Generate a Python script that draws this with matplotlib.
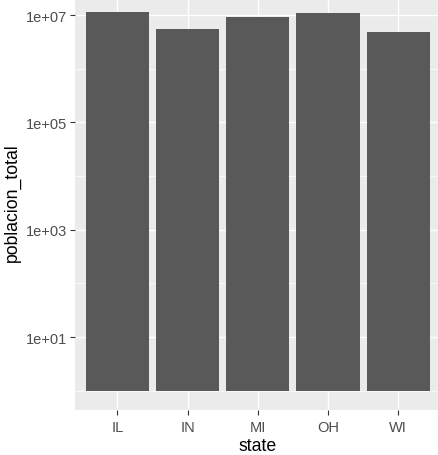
import matplotlib
matplotlib.use("Agg")
import matplotlib.pyplot as plt
import matplotlib.ticker as tkr
import numpy as np

states = ["IL", "IN", "MI", "OH", "WI"]
poblacion_total = [11430602, 5544159, 9295297, 10847115, 4891769]
y_breaks = [1e1, 1e3, 1e5, 1e7]
y_labels = ["1e+01", "1e+03", "1e+05", "1e+07"]
y_minor = [1e0, 1e2, 1e4, 1e6]

plt.rcParams['font.family'] = ['Liberation Sans', 'DejaVu Sans']

W, H = 439, 456
fig = plt.figure(figsize=(W / 100, H / 100), dpi=100)
# panel extends a little past the top/right edge, as in the reference
left, right, top, bottom = 75.2, 440.5, -6.0, 410.6
ax = fig.add_axes([left / W, 1 - bottom / H, (right - left) / W, (bottom - top) / H])
ax.set_facecolor("#EBEBEB")
for s in ax.spines.values():
  s.set_visible(False)

x = np.arange(1, len(states) + 1)
ax.bar(x, np.array(poblacion_total) - 1, bottom=1, width=0.9, color="#595959", zorder=3)

ax.set_yscale("log")
lo, hi = 0.0, np.log10(max(poblacion_total))
pad = 0.05 * (hi - lo)
ax.set_ylim(10 ** (lo - pad), 10 ** (hi + pad))
ax.set_xlim(0.4, len(states) + 0.6)

ax.yaxis.set_major_locator(tkr.FixedLocator(y_breaks))
ax.yaxis.set_major_formatter(tkr.FixedFormatter(y_labels))
ax.yaxis.set_minor_locator(tkr.FixedLocator(y_minor))
ax.yaxis.set_minor_formatter(tkr.NullFormatter())
ax.set_xticks(x)
ax.set_xticklabels(states)

ax.grid(which="major", color="white", linewidth=1.0, zorder=0)
ax.grid(which="minor", axis="y", color="white", linewidth=0.5, zorder=0)
ax.set_axisbelow(True)

ax.tick_params(which="major", length=3.5, width=0.8, color="#333333",
               labelcolor="#4D4D4D", labelsize=10.5, pad=2.5)
ax.tick_params(axis="x", which="major", pad=4)
ax.tick_params(which="minor", length=0)

ax.set_xlabel("state", fontsize=12.7, color="black", labelpad=2.5)
ax.set_ylabel("poblacion_total", fontsize=12.7, color="black", labelpad=3.5)

fig.savefig("out.png", dpi=100)
